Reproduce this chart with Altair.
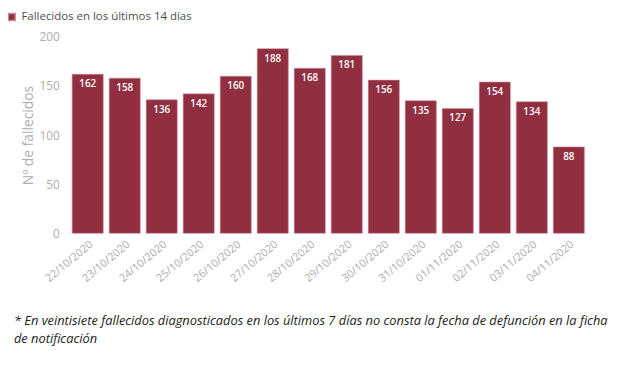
import altair as alt
import pandas as pd

fechas = ["22/10/2020", "23/10/2020", "24/10/2020", "25/10/2020", "26/10/2020",
          "27/10/2020", "28/10/2020", "29/10/2020", "30/10/2020", "31/10/2020",
          "01/11/2020", "02/11/2020", "03/11/2020", "04/11/2020"]
fallecidos = [162, 158, 136, 142, 160, 188, 168, 181, 156, 135, 127, 154, 134, 88]
serie = "Fallecidos en los últimos 14 días"
nota = ["* En veintisiete fallecidos diagnosticados en los últimos 7 días no consta la fecha de defunción en la ficha",
        "de notificación"]

df = pd.DataFrame({"fecha": fechas, "valor": fallecidos, "serie": serie})

color = "#912F41"
gris = "#ADADAD"
fuente = "Open Sans"

base = alt.Chart(df)

bars = base.mark_bar(color=color, stroke="#C98C97", strokeWidth=0.6).encode(
    x=alt.X("fecha:N", sort=fechas, title=None,
            scale=alt.Scale(paddingInner=0.16, paddingOuter=0.08),
            axis=alt.Axis(labelAngle=-40, labelAlign="right", labelBaseline="top",
                          labelColor=gris, labelFontSize=11, labelFont=fuente,
                          ticks=False, domain=False, labelPadding=5)),
    y=alt.Y("valor:Q", title="Nº de fallecidos",
            scale=alt.Scale(domain=[0, 200]),
            axis=alt.Axis(values=[0, 50, 100, 150, 200], grid=False, ticks=False,
                          domain=False, labelColor=gris, labelFontSize=12,
                          labelFont=fuente, labelPadding=10,
                          titleColor=gris, titleFontSize=14, titleFont=fuente,
                          titleFontWeight="normal", titlePadding=4)),
    fill=alt.Fill("serie:N", scale=alt.Scale(range=[color]),
                  legend=alt.Legend(title=None, orient="none", legendX=-64, legendY=-26,
                                    symbolType="square", symbolSize=50, labelLimit=400,
                                    labelFont=fuente, labelFontSize=11.6,
                                    labelColor="#4D4D4D")),
)

labels = base.mark_text(color="white", fontSize=10, font=fuente, fontWeight=600,
                        baseline="top", dy=5).encode(
    x=alt.X("fecha:N", sort=fechas),
    y="valor:Q",
    text="valor:Q",
)

chart = (bars + labels).properties(
    width=525, height=199,
    padding={"left": 62, "top": 27, "right": 25, "bottom": 120},
    autosize=alt.AutoSizeParams(type="none"),
    title=alt.TitleParams(text=nota, orient="bottom", anchor="start", frame="group",
                          font=fuente, fontSize=13, fontStyle="italic",
                          fontWeight="normal", color="#222222", dx=-56, offset=32,
                          lineHeight=18),
).configure_view(stroke=None)

chart.save("out.html", embed_options={"renderer": "svg", "actions": False})
